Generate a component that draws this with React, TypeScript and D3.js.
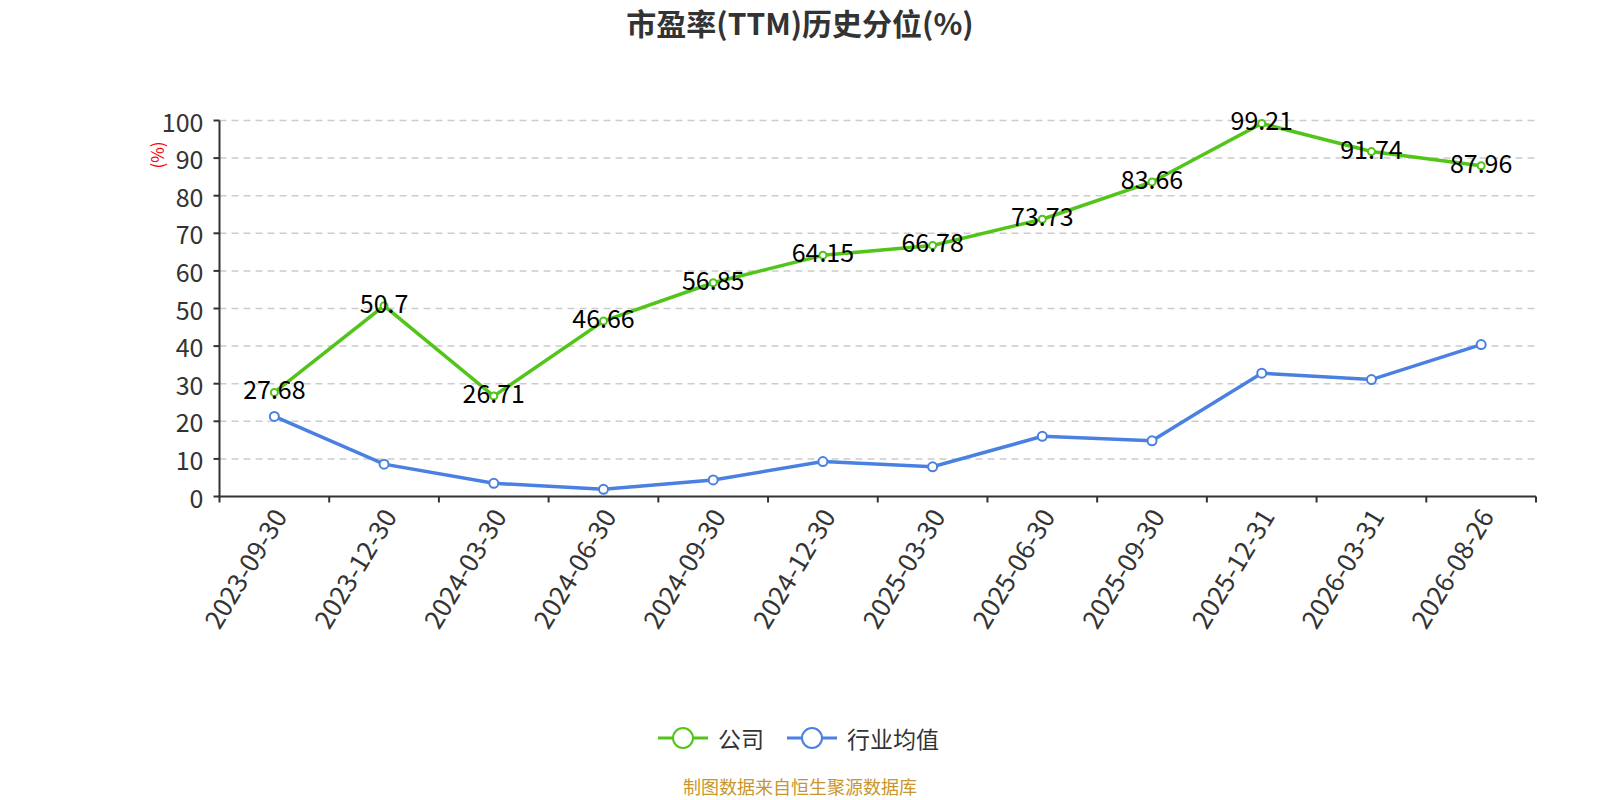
import * as d3 from "d3";

const categories = [
  "2023-09-30", "2023-12-30", "2024-03-30", "2024-06-30", "2024-09-30", "2024-12-30",
  "2025-03-30", "2025-06-30", "2025-09-30", "2025-12-31", "2026-03-31", "2026-08-26",
];
const companyValues = [27.68, 50.7, 26.71, 46.66, 56.85, 64.15, 66.78, 73.73, 83.66, 99.21, 91.74, 87.96];
const industryValues = [21.3, 8.6, 3.5, 1.9, 4.4, 9.3, 7.9, 16.0, 14.8, 32.8, 31.1, 40.4];
const yTicks = [0, 10, 20, 30, 40, 50, 60, 70, 80, 90, 100];
const seriesNames = ["公司", "行业均值"];

const width = 1600;
const height = 800;
const marginLeft = 219.5;
const marginRight = 64;
const plotTop = 120.5;
const plotBottom = 496.5;
const green = "#52c41a";
const blue = "#4a80e2";
const font = "'Noto Sans CJK SC', 'Noto Sans', sans-serif";

export default function App() {
  const x = d3.scaleBand(categories, [marginLeft, width - marginRight]);
  const y = d3.scaleLinear([0, 100], [plotBottom, plotTop]);
  const cx = (c) => x(c) + x.bandwidth() / 2;

  const line = d3
    .line()
    .x((d, i) => cx(categories[i]))
    .y((d) => y(d));

  const series = [
    { name: seriesNames[0], values: companyValues, color: green, r: 3.5 },
    { name: seriesNames[1], values: industryValues, color: blue, r: 4.5 },
  ];

  const boundaries = categories.map((c) => x(c)).concat([width - marginRight]);

  return (
    <svg
      width={width}
      height={height}
      style={{ position: "absolute", left: 0, top: 0, background: "#fff" }}
      fontFamily={font}
    >
      <text x={800} y={22} textAnchor="middle" dominantBaseline="central" fontSize={30} fontWeight="bold" fill="#333">
        市盈率(TTM)历史分位(%)
      </text>

      {/* grid */}
      {yTicks.slice(1).map((t) => (
        <line key={"g" + t} x1={marginLeft} x2={width - marginRight} y1={y(t)} y2={y(t)}
          stroke="#ccc" strokeWidth={1.5} strokeDasharray="7,5" />
      ))}

      {/* y axis */}
      <line x1={marginLeft} x2={marginLeft} y1={plotTop} y2={plotBottom} stroke="#333" strokeWidth={2} />
      {yTicks.map((t) => (
        <g key={"y" + t}>
          <line x1={marginLeft - 6} x2={marginLeft} y1={y(t)} y2={y(t)} stroke="#333" strokeWidth={2} />
          <text x={marginLeft - 16} y={y(t)} textAnchor="end" dominantBaseline="central" fontSize={25} fill="#333">
            {t}
          </text>
        </g>
      ))}
      <text transform={`translate(156,155) rotate(-90)`} textAnchor="middle" dominantBaseline="central" fontSize={17} fill="red">
        (%)
      </text>

      {/* x axis */}
      <line x1={marginLeft - 1} x2={width - marginRight} y1={plotBottom} y2={plotBottom} stroke="#333" strokeWidth={2} />
      {boundaries.map((b, i) => (
        <line key={"xt" + i} x1={b} x2={b} y1={plotBottom} y2={plotBottom + 6} stroke="#333" strokeWidth={2} />
      ))}
      {categories.map((c) => (
        <text key={"xl" + c} transform={`translate(${cx(c) + 4},${plotBottom + 14}) rotate(-59)`}
          textAnchor="end" dominantBaseline="central" fontSize={26} fill="#333">
          {c}
        </text>
      ))}

      {/* series */}
      {series.map((s) => (
        <g key={s.name}>
          <path d={line(s.values)} fill="none" stroke={s.color} strokeWidth={3.5} />
          {s.values.map((v, i) => (
            <circle key={i} cx={cx(categories[i])} cy={y(v)} r={s.r} fill="#fff" stroke={s.color} strokeWidth={2} />
          ))}
        </g>
      ))}
      {companyValues.map((v, i) => (
        <text key={"lab" + i} x={cx(categories[i])} y={y(v) - 4} textAnchor="middle" dominantBaseline="central"
          fontSize={25} fill="#000">
          {v}
        </text>
      ))}

      {/* legend */}
      {series.map((s, i) => {
        const lx = [658, 787][i];
        return (
          <g key={"leg" + s.name}>
            <line x1={lx} x2={lx + 50} y1={738} y2={738} stroke={s.color} strokeWidth={3} />
            <circle cx={lx + 25} cy={738} r={10} fill="#fff" stroke={s.color} strokeWidth={2} />
            <text x={lx + 60} y={738} dominantBaseline="central" fontSize={23} fill="#333">
              {s.name}
            </text>
          </g>
        );
      })}

      <text x={800} y={786} textAnchor="middle" dominantBaseline="central" fontSize={18} fill="#c8962c">
        制图数据来自恒生聚源数据库
      </text>
    </svg>
  );
}
